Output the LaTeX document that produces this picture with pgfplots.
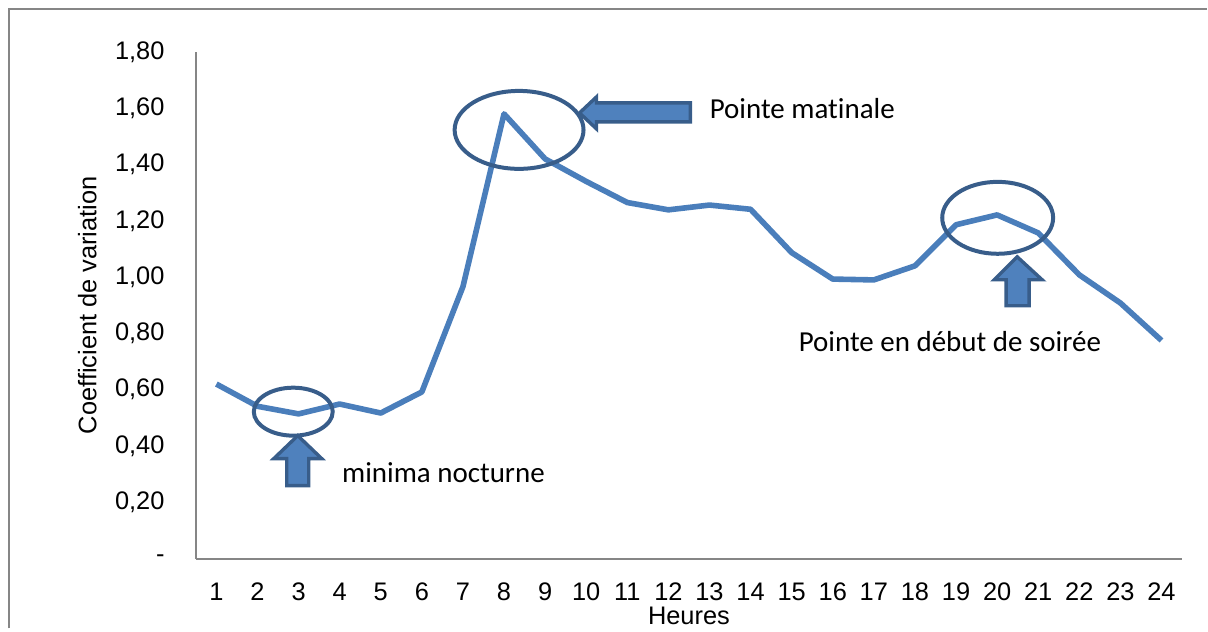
\documentclass[border=0pt]{standalone}
\usepackage{fontspec}
\setmainfont[Ligatures=NoCommon]{Liberation Sans}
\newfontfamily\calibri[Ligatures=NoCommon]{Carlito}
\usepackage{pgfplots}
\pgfplotsset{compat=1.18}

\definecolor{serie}{HTML}{4A7EBB}
\definecolor{shapefill}{HTML}{4F81BD}
\definecolor{shapeline}{HTML}{385D8A}
\definecolor{axisgray}{HTML}{868686}

\begin{document}
\begin{tikzpicture}
% page frame, 1 px = 0.5pt
\begin{scope}[x=0.5pt,y=-0.5pt]
  \path (0,0) rectangle (1208,629);
  \draw[axisgray,line width=1pt] (9,629) -- (9,9) -- (1208,9);
\end{scope}

\begin{axis}[
    at={(98pt,-279.5pt)}, anchor=south west,
    width=493.5pt, height=253.5pt,
    scale only axis,
    xmin=0.5, xmax=24.5,
    ymin=0, ymax=1.8,
    axis x line*=bottom,
    axis y line*=left,
    axis line style={axisgray, line width=1pt, -},
    major tick length=0pt,
    xtick={1,...,24},
    ytick={0,0.2,0.4,0.6,0.8,1.0,1.2,1.4,1.6,1.8},
    yticklabels={-,{0,20},{0,40},{0,60},{0,80},{1,00},{1,20},{1,40},{1,60},{1,80}},
    /pgf/number format/assume math mode=true,
    ticklabel style={font=\fontsize{12.7}{15}\selectfont},
    yticklabel style={inner sep=0pt, anchor=east, xshift=-15.5pt},
    xticklabel style={inner sep=0pt, anchor=north, yshift=-12pt},
    xlabel={Heures},
    ylabel={Coefficient de variation},
    label style={font=\fontsize{12.7}{15}\selectfont},
    xlabel style={at={(axis description cs:0.5,-0.114)}, anchor=center},
    ylabel style={at={(axis description cs:-0.110,0.5)}, anchor=center},
    clip=false,
]
\addplot[serie, line width=2.8pt, line join=round, mark=none] coordinates {
    (1,0.620) (2,0.541) (3,0.514) (4,0.549) (5,0.517) (6,0.592)
    (7,0.966) (8,1.580) (9,1.420) (10,1.340) (11,1.265) (12,1.239)
    (13,1.256) (14,1.241) (15,1.087) (16,0.993) (17,0.990) (18,1.040)
    (19,1.186) (20,1.221) (21,1.157) (22,1.008) (23,0.908) (24,0.775)
};
\end{axis}

% annotations (pixel units)
\begin{scope}[x=0.5pt,y=-0.5pt]
  % ellipses
  \draw[shapeline, line width=2pt] (293.5,412) ellipse [x radius=39.5, y radius=24];
  \draw[shapeline, line width=2pt] (519.5,130) ellipse [x radius=64.5, y radius=39];
  \draw[shapeline, line width=2pt] (998.5,218) ellipse [x radius=55.5, y radius=36];
  % block arrows
  \filldraw[fill=shapefill, draw=shapeline, line width=1.7pt, line join=miter]
    (298,436) -- (322,459) -- (309,459) -- (309,486) -- (287,486) -- (287,459) -- (274,459) -- cycle;
  \filldraw[fill=shapefill, draw=shapeline, line width=1.7pt, line join=miter]
    (580,113) -- (597,97) -- (597,103) -- (691,103) -- (691,122) -- (597,122) -- (597,129) -- cycle;
  \filldraw[fill=shapefill, draw=shapeline, line width=1.7pt, line join=miter]
    (1018,257) -- (1043,280) -- (1030,280) -- (1030,306) -- (1007,306) -- (1007,280) -- (995,280) -- cycle;
  % labels
  \node[anchor=west, inner sep=0pt, font=\calibri\fontsize{14.5}{17}\selectfont] at (710,109) {Pointe matinale};
  \node[anchor=west, inner sep=0pt, font=\calibri\fontsize{14.5}{17}\selectfont] at (342,473) {minima nocturne};
  \node[anchor=west, inner sep=0pt, font=\calibri\fontsize{14.5}{17}\selectfont] at (799,342) {Pointe en début de soirée};
\end{scope}
\end{tikzpicture}
\end{document}
